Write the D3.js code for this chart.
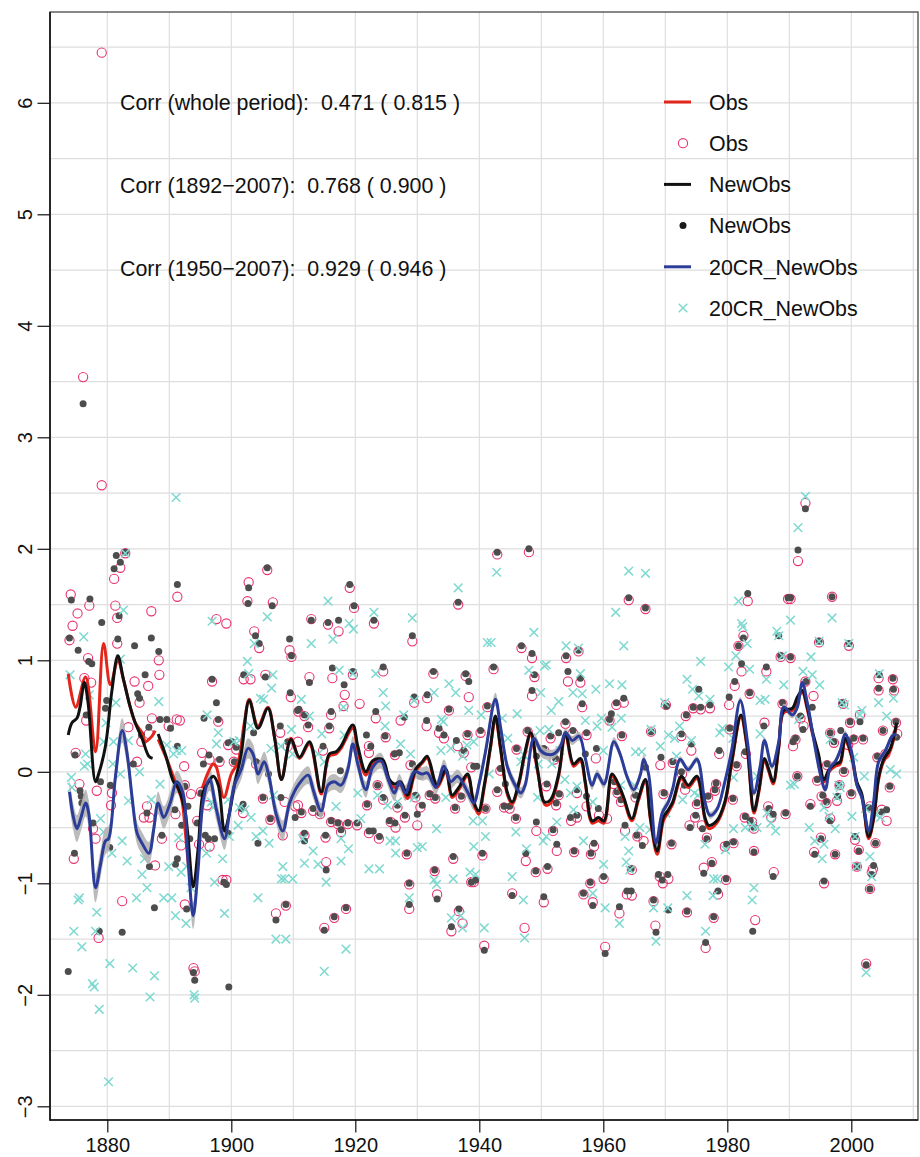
<!DOCTYPE html>
<html>
<head>
<meta charset="utf-8">
<script src="https://cdn.jsdelivr.net/npm/d3@7"></script>
<style>
  html, body { margin: 0; padding: 0; background: #fff; }
  svg { display: block; }
  text { font-family: "Liberation Sans", Arial, Helvetica, sans-serif; fill: #111; }
</style>
</head>
<body>
<svg id="chart" width="920" height="1157"></svg>
<script>
// ---- data: annual-index values (year, value) ----
const obsPoints = [
  [1879.1,6.45],[1876.1,3.54],[1879.1,2.57],[1882.1,1.83],[1881.1,1.73],[1882.9,1.96],[1874.1,1.59],[1877.1,1.49],
  [1875.2,1.42],[1881.3,1.49],[1881.6,1.38],[1887.1,1.44],[1874.4,1.31],[1873.9,1.18],[1881.6,1.15],[1888.3,1.0],
  [1888.4,0.87],[1876.9,1.02],[1886.6,0.77],[1885.2,0.62],[1884.4,0.81],[1877.4,0.80],[1876.3,0.84],[1876.6,0.46],
  [1887.2,0.48],[1886.7,0.34],[1883.4,0.40],[1889.9,0.41],[1891.2,0.47],[1885.5,0.27],[1874.9,0.17],[1884.8,0.09],
  [1875.5,-0.11],[1878.3,-0.17],[1880.75,-0.19],[1880.6,-0.30],[1886.4,-0.31],[1885.9,-0.41],[1886.8,-0.41],[1877.7,-0.51],
  [1878.1,-0.60],[1888.8,-0.60],[1874.6,-0.78],[1887.7,-0.84],[1882.4,-1.16],[1878.6,-1.49],
  [1905.8,1.81],[1902.8,1.70],[1902.6,1.53],[1906.7,1.52],[1891.3,1.57],[1897.6,1.37],[1899.2,1.33],[1903.7,1.26],
  [1904.5,1.11],[1909.4,1.09],[1909.7,1.03],[1902.0,0.83],[1903.1,0.83],[1905.5,0.87],[1896.9,0.81],[1909.6,0.67],
  [1910.8,0.54],[1891.7,0.46],[1897.9,0.45],[1907.9,0.35],[1895.3,0.17],[1896.5,0.11],[1898.1,0.09],[1900.4,0.09],
  [1892.4,0.05],[1909.1,0.23],[1905.1,-0.24],[1892.5,-0.12],[1893.5,-0.20],[1895.1,-0.18],[1896.1,-0.30],[1894.5,-0.44],
  [1901.9,-0.37],[1906.3,-0.43],[1908.6,-0.27],[1908.3,-0.57],[1910.3,-0.31],[1891.9,-0.66],[1896.5,-0.67],[1894.8,-0.65],
  [1898.6,-0.97],[1899.2,-0.97],[1892.5,-1.19],[1907.2,-1.27],[1908.8,-1.20],[1893.9,-1.76],[1894.1,-1.79],[1891.0,-0.38],
  [1904.0,0.07],[1899.5,0.24],[1900.8,0.20],
  [1919.1,1.65],[1919.8,1.47],[1912.9,1.37],[1923.0,1.33],[1915.6,1.32],[1917.3,1.26],[1929.2,1.17],[1912.6,0.85],
  [1916.3,0.84],[1919.6,0.87],[1924.5,0.90],[1918.3,0.69],[1918.1,0.59],[1920.7,0.61],[1916.1,0.51],[1923.3,0.48],
  [1911.8,0.50],[1912.4,0.40],[1927.3,0.46],[1929.5,0.62],[1915.8,0.39],[1924.9,0.31],[1922.2,0.23],[1922.2,0.17],
  [1926.4,0.15],[1928.9,0.06],[1914.8,0.19],[1910.75,0.27],[1923.6,-0.12],[1926.8,-0.32],[1928.0,-0.41],[1910.75,-0.30],
  [1911.3,-0.37],[1916.1,-0.45],[1917.2,-0.47],[1918.8,-0.47],[1920.3,-0.48],[1921.9,-0.30],[1925.7,-0.45],[1926.5,-0.50],
  [1922.2,-0.55],[1923.8,-0.60],[1917.7,-0.54],[1930.0,-0.48],[1911.8,-0.57],[1915.2,-0.59],[1915.3,-0.81],[1928.3,-0.74],
  [1928.7,-1.01],[1928.7,-1.23],[1918.5,-1.23],[1916.6,-1.31],[1915.0,-1.40],[1913.2,-0.35],[1914.3,-0.38],[1929.7,-0.23],
  [1924.5,-0.25],
  [1942.9,1.95],[1948.0,1.97],[1936.6,1.50],[1946.8,1.11],[1948.5,1.02],[1948.9,0.85],[1932.6,0.88],[1937.8,0.86],
  [1942.3,0.92],[1931.6,0.66],[1938.3,0.67],[1948.5,0.68],[1935.1,0.55],[1941.3,0.58],[1931.5,0.41],[1933.5,0.35],
  [1934.3,0.30],[1936.5,0.23],[1937.5,0.17],[1938.1,0.33],[1940.2,0.35],[1938.7,0.04],[1946.0,0.20],[1947.8,0.36],
  [1943.4,0.01],[1942.9,-0.18],[1944.0,-0.32],[1944.9,-0.33],[1930.5,-0.32],[1932.0,-0.21],[1932.9,-0.24],[1936.1,-0.33],
  [1937.0,-0.23],[1941.0,-0.33],[1945.9,-0.42],[1949.2,-0.53],[1947.5,-0.80],[1949.1,-0.90],[1935.8,-0.78],[1940.5,-0.75],
  [1932.8,-0.89],[1933.2,-1.10],[1938.7,-0.99],[1939.1,-0.99],[1945.3,-1.09],[1950.4,-1.17],[1936.7,-1.25],[1935.5,-1.43],
  [1937.3,-1.36],[1940.8,-1.56],[1947.3,-1.40],
  [1964.1,1.54],[1966.8,1.46],[1954.0,1.02],[1956.0,1.08],[1954.3,0.81],[1956.3,0.80],[1956.6,0.58],[1962.1,0.60],
  [1963.3,0.62],[1961.0,0.46],[1953.9,0.43],[1951.5,0.30],[1955.1,0.35],[1957.3,0.33],[1963.0,0.32],[1967.7,0.36],
  [1969.2,0.06],[1970.1,0.60],[1958.8,0.12],[1950.5,0.19],[1952.1,0.11],[1955.75,-0.19],[1952.8,-0.21],[1950.8,-0.13],
  [1952.4,-0.30],[1957.3,-0.31],[1959.3,-0.39],[1955.75,-0.41],[1954.8,-0.44],[1960.6,-0.42],[1962.3,-0.19],[1961.7,-0.11],
  [1962.85,-0.27],[1965.2,-0.23],[1969.7,-0.20],[1963.5,-0.53],[1965.5,-0.58],[1966.5,-0.62],[1951.9,-0.53],[1952.5,-0.71],
  [1955.3,-0.72],[1958.5,-0.67],[1958.0,-0.74],[1964.6,-0.88],[1960.05,-0.96],[1951.0,-0.87],[1957.9,-1.00],[1956.8,-1.10],
  [1958.3,-1.17],[1962.6,-1.27],[1963.8,-1.10],[1964.6,-1.11],[1968.1,-1.16],[1968.4,-1.38],[1969.1,-0.94],[1969.6,-1.00],
  [1960.3,-1.57],
  [1983.3,1.53],[1989.8,1.55],[1982.6,1.22],[1981.8,1.13],[1988.6,1.03],[1982.3,0.90],[1986.3,0.90],[1981.2,0.77],
  [1980.3,0.60],[1983.6,0.70],[1988.9,0.61],[1974.5,0.57],[1975.7,0.56],[1977.2,0.57],[1973.3,0.50],[1972.6,0.32],
  [1980.4,0.38],[1986.0,0.44],[1974.2,0.19],[1978.7,0.16],[1981.5,0.05],[1983.0,0.16],[1971.2,0.08],[1972.7,-0.02],
  [1973.2,-0.16],[1978.2,-0.11],[1980.9,-0.25],[1982.8,-0.41],[1975.1,-0.29],[1974.8,-0.41],[1973.9,-0.48],[1975.9,-0.48],
  [1976.7,-0.59],[1979.6,-0.67],[1981.0,-0.64],[1984.0,-0.45],[1984.3,-0.51],[1986.6,-0.31],[1987.1,-0.41],[1989.4,-0.38],
  [1984.3,-0.71],[1971.0,-0.65],[1970.5,-0.96],[1976.2,-0.86],[1977.5,-0.81],[1979.8,-0.97],[1987.5,-0.90],[1978.5,-1.10],
  [1973.5,-1.26],[1977.8,-1.31],[1976.5,-1.58],[1984.5,-1.33],[1976.9,-0.23],[1978.0,-0.17],
  [1992.6,2.41],[1991.4,1.89],[1990.2,1.55],[1996.9,1.57],[1994.8,1.16],[1999.6,1.13],[1990.2,1.02],[2004.4,0.84],
  [2004.4,0.73],[2006.7,0.83],[2006.9,0.73],[1992.6,0.81],[1993.9,0.68],[1998.7,0.61],[2001.4,0.51],[1991.8,0.48],
  [1992.3,0.41],[1999.8,0.44],[1996.6,0.35],[2005.1,0.37],[2007.2,0.44],[2007.4,0.34],[1991.0,0.29],[2000.4,0.29],
  [2001.9,0.29],[1997.2,0.26],[1999.5,0.24],[2004.2,0.13],[2005.5,0.16],[1990.6,0.23],[1991.3,-0.04],[1994.5,-0.08],
  [1998.8,0.0],[1996.1,0.06],[2006.2,-0.14],[1998.1,-0.12],[2000.0,-0.20],[1995.2,-0.22],[1996.0,-0.28],[1997.7,-0.26],
  [1993.4,-0.29],[1996.6,-0.42],[2003.0,-0.31],[2004.9,-0.34],[2005.7,-0.44],[1994.0,-0.72],[1995.1,-0.59],[1997.4,-0.74],
  [2000.6,-0.61],[2001.2,-0.70],[2000.9,-0.85],[2003.9,-0.64],[2003.5,-0.87],[2003.3,-0.90],[2003.0,-1.05],[1995.6,-1.00],
  [2002.4,-1.72]
];

const newObsPoints = [
  [1876.1,3.30],[1881.45,1.94],[1882.1,1.88],[1881.1,1.82],[1882.9,1.97],[1874.2,1.54],[1877.2,1.55],[1881.9,1.40],
  [1879.1,1.34],[1873.9,1.20],[1875.3,1.09],[1881.7,1.19],[1884.4,1.13],[1887.1,1.20],[1888.3,1.08],[1877.0,0.99],
  [1877.5,0.97],[1886.1,0.87],[1884.9,0.70],[1885.2,0.66],[1879.9,0.64],[1879.7,0.57],[1876.6,0.51],[1886.7,0.40],
  [1888.5,0.47],[1889.6,0.47],[1890.2,0.39],[1874.8,0.15],[1884.2,0.07],[1875.6,-0.17],[1875.8,-0.22],[1875.9,-0.28],
  [1878.9,-0.09],[1880.5,-0.12],[1886.4,-0.37],[1877.7,-0.46],[1888.8,-0.57],[1880.4,-0.68],[1874.7,-0.73],[1886.8,-0.85],
  [1891.0,-0.83],[1887.6,-1.22],[1878.7,-1.43],[1882.4,-1.44],[1873.7,-1.79],[1885.5,0.33],
  [1905.8,1.83],[1902.8,1.65],[1902.7,1.51],[1906.6,1.49],[1891.3,1.68],[1903.9,1.22],[1904.5,1.15],[1909.4,1.19],
  [1909.7,1.04],[1902.0,0.87],[1905.5,0.85],[1896.9,0.83],[1897.6,0.62],[1909.5,0.71],[1910.7,0.55],[1895.6,0.48],
  [1897.9,0.47],[1903.6,0.35],[1907.9,0.41],[1891.3,0.23],[1895.5,0.07],[1896.4,0.15],[1898.1,0.11],[1899.5,0.26],
  [1900.1,0.27],[1900.8,0.22],[1900.5,0.09],[1904.0,0.09],[1909.1,0.27],[1906.0,-0.02],[1905.1,-0.23],[1890.9,-0.34],
  [1895.1,-0.19],[1893.0,-0.31],[1894.5,-0.46],[1899.5,-0.55],[1901.9,-0.29],[1901.6,-0.33],[1904.3,-0.64],[1906.3,-0.42],
  [1910.3,-0.41],[1892.0,-0.48],[1893.3,-0.60],[1895.8,-0.57],[1896.3,-0.60],[1897.3,-0.60],[1891.3,-0.78],[1898.8,-0.99],
  [1899.2,-1.01],[1892.8,-1.23],[1907.2,-1.33],[1908.8,-1.19],[1893.9,-1.80],[1894.1,-1.87],[1899.6,-1.93],[1908.0,-0.23],
  [1892.5,-0.13],
  [1919.1,1.68],[1919.8,1.49],[1912.9,1.36],[1923.0,1.36],[1915.6,1.34],[1917.3,1.36],[1929.2,1.22],[1912.6,0.80],
  [1916.3,0.93],[1919.6,0.90],[1924.5,0.94],[1918.2,0.78],[1916.1,0.54],[1923.3,0.54],[1910.9,0.56],[1911.8,0.51],
  [1912.4,0.42],[1927.9,0.49],[1929.5,0.67],[1915.8,0.41],[1924.8,0.32],[1921.8,0.33],[1922.5,0.23],[1926.3,0.16],
  [1927.1,0.17],[1929.2,0.07],[1914.8,0.23],[1917.6,0.01],[1923.6,-0.12],[1924.5,-0.23],[1926.8,-0.30],[1928.0,-0.39],
  [1929.7,-0.21],[1911.3,-0.36],[1913.2,-0.33],[1914.3,-0.37],[1916.1,-0.44],[1917.2,-0.46],[1918.8,-0.46],[1920.3,-0.46],
  [1925.5,-0.44],[1926.4,-0.46],[1922.2,-0.53],[1922.9,-0.53],[1923.9,-0.58],[1917.7,-0.52],[1930.0,-0.38],[1911.8,-0.55],
  [1911.8,-0.62],[1915.2,-0.57],[1928.3,-0.73],[1915.3,-0.88],[1928.7,-1.0],[1928.7,-1.19],[1918.5,-1.22],[1916.6,-1.30],
  [1915.0,-1.42],[1921.9,-0.29],
  [1942.9,1.97],[1948.0,2.00],[1936.6,1.52],[1946.8,1.13],[1948.5,1.06],[1948.9,0.87],[1932.6,0.90],[1937.8,0.88],
  [1938.3,0.81],[1942.3,0.94],[1931.6,0.69],[1948.5,0.73],[1935.1,0.56],[1941.3,0.59],[1931.5,0.46],[1933.5,0.39],
  [1934.3,0.33],[1936.3,0.28],[1937.5,0.19],[1938.1,0.34],[1940.2,0.37],[1939.1,0.05],[1939.6,0.05],[1946.0,0.21],
  [1947.8,0.37],[1943.4,0.03],[1942.9,-0.16],[1944.2,-0.11],[1944.0,-0.31],[1944.9,-0.31],[1949.2,0.14],[1930.5,-0.04],
  [1930.8,-0.30],[1932.0,-0.20],[1932.9,-0.23],[1936.1,-0.32],[1937.1,-0.22],[1941.0,-0.33],[1945.9,-0.41],[1949.2,-0.45],
  [1947.5,-0.73],[1949.1,-0.89],[1935.8,-0.76],[1940.5,-0.73],[1932.8,-0.88],[1933.2,-1.14],[1938.7,-0.99],[1939.4,-0.97],
  [1945.3,-1.11],[1950.4,-1.12],[1936.7,-1.23],[1935.5,-1.39],[1940.8,-1.60],
  [1964.1,1.56],[1966.8,1.47],[1954.0,1.04],[1956.0,1.09],[1954.3,0.90],[1956.3,0.84],[1956.6,0.61],[1962.1,0.62],
  [1963.3,0.66],[1961.3,0.52],[1961.0,0.47],[1953.9,0.45],[1951.5,0.32],[1952.8,0.35],[1955.1,0.37],[1957.3,0.35],
  [1963.0,0.33],[1967.7,0.36],[1969.3,0.13],[1970.2,0.59],[1958.9,0.21],[1957.1,0.16],[1950.4,0.21],[1952.3,0.12],
  [1955.75,-0.16],[1952.9,-0.20],[1950.9,-0.11],[1952.4,-0.28],[1957.3,-0.22],[1959.2,-0.33],[1955.75,-0.39],[1954.7,-0.41],
  [1962.2,-0.18],[1961.8,-0.09],[1962.85,-0.25],[1965.2,-0.21],[1969.8,-0.19],[1963.5,-0.48],[1965.4,-0.57],[1966.3,-0.66],
  [1951.9,-0.52],[1952.5,-0.65],[1955.3,-0.71],[1958.5,-0.64],[1958.0,-0.73],[1964.5,-0.87],[1960.05,-0.94],[1951.0,-0.85],
  [1957.9,-0.99],[1956.8,-1.09],[1958.3,-1.20],[1962.6,-1.21],[1963.8,-1.07],[1964.5,-1.07],[1968.1,-1.15],[1968.5,-1.44],
  [1968.9,-0.92],[1969.5,-0.97],[1960.3,-1.63],[1966.8,0.04],
  [1983.3,1.60],[1989.8,1.56],[1982.6,1.20],[1981.8,1.13],[1988.3,1.22],[1988.6,1.04],[1982.3,0.97],[1986.3,0.94],
  [1975.4,0.74],[1981.2,0.81],[1980.3,0.67],[1983.6,0.71],[1988.9,0.62],[1974.5,0.58],[1975.7,0.58],[1977.2,0.60],
  [1973.4,0.51],[1972.6,0.34],[1980.4,0.39],[1985.9,0.41],[1974.2,0.25],[1978.7,0.19],[1981.5,0.06],[1982.9,0.18],
  [1971.2,0.09],[1972.6,0.0],[1973.1,-0.12],[1976.9,-0.22],[1978.2,-0.10],[1980.9,-0.24],[1982.9,-0.40],[1975.1,-0.28],
  [1974.9,-0.39],[1974.0,-0.50],[1976.0,-0.51],[1976.7,-0.60],[1979.9,-0.65],[1981.0,-0.63],[1983.7,-0.44],[1984.3,-0.50],
  [1986.7,-0.33],[1987.4,-0.38],[1989.4,-0.37],[1984.3,-0.72],[1971.0,-0.64],[1970.4,-0.92],[1976.2,-0.91],[1977.5,-0.82],
  [1979.8,-0.96],[1987.4,-0.94],[1978.5,-1.07],[1973.5,-1.25],[1977.8,-1.30],[1970.5,-1.24],[1976.5,-1.53],[1984.1,-1.43],
  [1978.0,-0.16],
  [1992.6,2.36],[1991.4,1.99],[1990.2,1.56],[1996.9,1.57],[1994.8,1.17],[1999.6,1.15],[1990.2,1.03],[2004.5,0.87],
  [2004.4,0.75],[2006.7,0.84],[2006.8,0.74],[1992.7,0.81],[1993.7,0.58],[1998.5,0.62],[2001.4,0.45],[1991.8,0.50],
  [1992.2,0.38],[1999.8,0.45],[1996.6,0.35],[1998.3,0.37],[2005.1,0.37],[2007.2,0.45],[2007.3,0.31],[1991.0,0.30],
  [2000.4,0.30],[2001.9,0.30],[1997.2,0.27],[1999.6,0.27],[2004.2,0.14],[2005.5,0.16],[1990.6,0.27],[1991.3,-0.04],
  [1994.5,-0.07],[1998.8,0.01],[1996.1,0.07],[2006.2,-0.13],[1998.0,-0.12],[2000.0,-0.19],[1995.4,-0.21],[1996.0,-0.27],
  [1997.8,-0.22],[1993.4,-0.31],[1996.6,-0.44],[2002.8,-0.32],[2004.9,-0.36],[2005.7,-0.34],[1994.1,-0.74],[1995.1,-0.60],
  [1997.4,-0.74],[2000.6,-0.58],[2001.2,-0.71],[2000.9,-0.85],[2003.9,-0.64],[2003.6,-0.84],[2003.3,-0.92],[2003.0,-1.05],
  [1995.6,-0.98],[2002.4,-1.73]
];

const crPoints = [
  [1891.1,2.46],[1882.9,1.96],[1882.6,1.45],[1876.2,1.21],[1882.1,1.01],[1874.0,0.87],[1877.1,0.69],[1881.4,0.62],
  [1888.3,0.63],[1879.8,0.44],[1889.6,0.24],[1890.7,0.16],[1883.4,0.28],[1881.0,0.27],[1876.5,0.16],[1876.8,0.07],
  [1876.3,0.05],[1879.4,0.27],[1882.1,-0.02],[1880.9,0.07],[1885.2,0.0],[1874.2,-0.05],[1874.3,-0.14],[1888.5,-0.11],
  [1887.1,-0.25],[1883.4,-0.26],[1878.9,-0.42],[1879.4,-0.54],[1882.4,-0.62],[1880.75,-0.73],[1883.2,-0.80],[1886.0,-0.78],
  [1885.6,-0.92],[1889.9,-0.85],[1886.4,-1.04],[1875.5,-1.13],[1875.3,-1.15],[1878.3,-1.26],[1884.7,-1.13],[1889.1,-1.13],
  [1890.4,-1.13],[1891.0,-1.29],[1874.6,-1.43],[1878.1,-1.43],[1875.9,-1.57],[1880.4,-1.72],[1884.1,-1.76],[1887.6,-1.83],
  [1877.6,-1.90],[1877.9,-1.93],[1886.9,-2.02],[1878.7,-2.13],[1880.2,-2.78],
  [1905.8,1.39],[1896.9,1.35],[1903.7,1.15],[1902.6,0.99],[1902.8,0.88],[1906.7,0.87],[1904.7,0.66],[1905.2,0.65],
  [1906.5,0.75],[1896.1,0.51],[1897.9,0.35],[1897.6,0.25],[1903.1,0.41],[1909.7,0.38],[1891.2,0.19],[1892.0,0.19],
  [1900.4,0.27],[1901.3,0.28],[1906.4,0.21],[1909.9,0.16],[1906.8,-0.21],[1896.8,-0.27],[1897.1,-0.32],[1899.5,-0.25],
  [1901.3,-0.32],[1901.1,-0.48],[1899.7,-0.58],[1902.2,-0.34],[1903.2,-0.41],[1904.0,-0.58],[1905.1,-0.53],[1906.1,-0.64],
  [1896.0,-0.73],[1891.9,-0.90],[1892.8,-0.85],[1898.6,-0.78],[1897.3,-0.99],[1908.3,-0.85],[1908.1,-0.96],[1908.6,-0.96],
  [1909.9,-0.96],[1904.3,-1.13],[1892.7,-1.36],[1898.9,-1.27],[1907.2,-1.50],[1908.8,-1.50],[1894.0,-2.00],[1894.1,-2.03],
  [1891.5,-0.59],[1893.5,-1.04],[1908.0,0.23],
  [1915.6,1.53],[1923.0,1.43],[1919.0,1.33],[1919.7,1.28],[1929.2,1.38],[1912.9,1.15],[1916.4,1.19],[1917.4,0.91],
  [1919.6,0.88],[1923.3,0.88],[1924.5,0.71],[1918.1,0.58],[1924.9,0.59],[1911.3,0.65],[1912.6,0.50],[1927.8,0.51],
  [1929.5,0.64],[1914.6,0.34],[1924.8,0.41],[1927.3,0.25],[1928.9,0.16],[1918.2,0.33],[1914.0,0.16],[1923.6,-0.21],
  [1920.4,-0.19],[1925.2,-0.30],[1926.8,-0.27],[1916.9,-0.31],[1920.9,-0.42],[1917.7,-0.60],[1918.9,-0.69],[1913.2,-0.71],
  [1914.0,-0.83],[1911.8,-0.82],[1917.7,-0.80],[1915.3,-0.99],[1925.6,-0.62],[1926.5,-0.62],[1926.5,-0.73],[1922.2,-0.87],
  [1923.9,-0.87],[1928.7,-1.13],[1918.5,-1.59],[1915.0,-1.79],[1911.5,-0.60],[1930.0,-0.68],[1929.5,-0.23],[1915.0,0.09],
  [1912.0,-0.07],
  [1942.8,1.79],[1936.6,1.65],[1941.3,1.16],[1941.9,1.16],[1948.8,1.25],[1948.0,0.91],[1950.5,0.95],[1935.1,0.79],
  [1936.2,0.71],[1932.7,0.71],[1949.9,0.71],[1938.3,0.55],[1940.3,0.51],[1943.7,0.48],[1946.1,0.52],[1933.9,0.47],
  [1934.2,0.45],[1935.4,0.21],[1933.8,0.19],[1937.3,0.14],[1938.0,0.24],[1939.1,0.27],[1949.8,0.37],[1946.7,0.09],
  [1941.6,-0.02],[1949.5,0.07],[1934.6,-0.23],[1939.0,-0.44],[1940.5,-0.44],[1941.0,-0.58],[1939.1,-0.67],[1933.1,-0.51],
  [1930.8,-0.67],[1945.9,-0.54],[1949.4,-0.23],[1947.6,-0.69],[1950.3,-0.62],[1932.7,-0.97],[1933.1,-1.01],[1935.8,-0.96],
  [1939.4,-0.92],[1938.5,-0.90],[1945.3,-0.94],[1947.1,-1.15],[1935.5,-1.31],[1937.0,-1.29],[1937.3,-1.40],[1940.8,-1.40],
  [1947.3,-1.49],[1944.6,0.30],[1947.2,0.15],
  [1964.1,1.80],[1966.8,1.78],[1962.0,1.43],[1963.3,1.13],[1954.0,1.13],[1956.0,1.11],[1950.8,0.96],[1956.3,0.88],
  [1955.1,0.71],[1956.6,0.70],[1958.8,0.74],[1961.0,0.79],[1963.0,0.78],[1952.8,0.63],[1951.6,0.55],[1962.9,0.48],
  [1959.7,0.48],[1957.1,0.46],[1951.2,0.38],[1959.0,0.41],[1961.4,0.40],[1967.7,0.38],[1969.2,0.23],[1969.9,0.62],
  [1965.2,0.18],[1966.2,0.18],[1960.0,0.19],[1953.8,-0.07],[1954.7,-0.19],[1955.75,-0.13],[1958.3,-0.27],[1955.2,-0.34],
  [1965.9,-0.50],[1963.5,-0.58],[1950.8,-0.58],[1952.5,-0.45],[1956.8,-0.62],[1964.1,-0.71],[1963.7,-0.81],[1960.05,-0.83],
  [1958.3,-1.09],[1960.3,-1.22],[1962.6,-1.36],[1968.1,-1.22],[1968.5,-1.52],[1964.3,-0.88],[1967.5,-0.52],[1953.0,0.19],
  [1951.7,0.07],[1962.8,-0.12],[1965.0,-0.12],
  [1981.8,1.53],[1982.3,1.33],[1982.5,1.30],[1983.2,1.15],[1988.3,1.22],[1988.0,1.26],[1981.4,1.04],[1975.7,0.99],
  [1980.2,0.94],[1983.6,0.92],[1986.3,0.83],[1973.5,0.83],[1974.4,0.74],[1975.4,0.68],[1977.2,0.65],[1989.1,0.78],
  [1985.3,0.64],[1986.1,0.65],[1972.3,0.41],[1971.5,0.30],[1979.2,0.39],[1978.8,0.35],[1985.3,0.34],[1974.2,0.28],
  [1981.0,-0.05],[1984.8,-0.04],[1971.8,0.14],[1972.8,-0.25],[1974.7,-0.19],[1975.3,-0.21],[1982.9,-0.50],[1981.0,-0.51],
  [1976.4,-0.65],[1987.0,-0.46],[1987.8,-0.53],[1977.8,-0.96],[1978.4,-0.96],[1984.3,-1.04],[1984.0,-1.15],[1977.7,-1.11],
  [1973.5,-1.11],[1970.4,-1.22],[1976.5,-1.43],[1988.9,1.04],[1970.5,0.33],[1980.9,0.30],[1984.0,-0.48],[1984.8,-0.50],
  [1979.7,-0.70],[1986.4,-0.37],[1970.1,-0.37],
  [1992.6,2.47],[1991.4,2.19],[1996.9,1.38],[1994.8,1.17],[1999.6,1.15],[1993.5,1.03],[1992.2,0.90],[1993.7,0.87],
  [1994.9,0.78],[2004.5,0.88],[2006.8,0.66],[2004.4,0.62],[1998.5,0.62],[1998.9,0.60],[2001.7,0.55],[2001.4,0.51],
  [2005.7,0.50],[1991.5,0.47],[2000.4,0.13],[2006.3,0.02],[2007.3,-0.02],[1990.2,-0.12],[1990.8,-0.11],[1997.7,-0.23],
  [2002.1,-0.04],[1998.0,-0.12],[1998.2,-0.14],[1995.6,-0.32],[1996.4,-0.40],[1997.4,-0.51],[1993.2,-0.50],[2000.1,-0.40],
  [1994.1,-0.62],[1995.6,-0.65],[1995.3,-0.78],[2000.6,-0.58],[2000.9,-0.85],[2003.0,-0.76],[2003.3,-0.94],[2002.4,-1.80],
  [1990.2,1.36],[2003.9,-0.38],[2004.7,-0.41],[1996.6,0.29],[2002.3,-0.33]
];

// ---- smoothed curves (year, value); null marks a gap ----
const obsSmooth = [
  [1873.7,0.88],[1874.9,0.58],[1876.5,0.85],[1878.1,0.18],[1879.4,1.15],[1880.5,0.78],[1881.7,1.0],[1882.6,0.83],
  [1883.7,0.58],[1884.5,0.44],[1885.6,0.35],[1886.1,0.27],[1887.2,0.32],[1887.7,0.37],[1887.9,null],
  [1888.2,0.29],[1889.6,0.11],[1890.9,-0.08],[1892.0,-0.25],[1892.6,-0.55],[1893.1,-0.86],[1894.0,null],
  [1895.3,-0.15],[1896.3,0.0],[1897.1,0.07],[1897.6,0.04],[1898.8,-0.23],[1900.0,-0.02],[1901.1,0.09],[1902.1,0.44],
  [1902.9,0.65],[1904.3,0.41],[1905.9,0.58],[1907.0,0.30],[1908.1,-0.07],[1909.6,0.30],[1911.0,0.12],[1912.6,0.25],
  [1914.5,-0.20],[1915.8,0.14],[1916.9,0.16],[1917.7,0.21],[1919.6,0.39],[1920.4,0.19],[1921.7,-0.03],[1922.8,0.08],
  [1924.4,0.09],[1925.5,-0.09],[1926.3,-0.14],[1927.3,-0.12],[1928.4,-0.24],[1929.7,0.0],[1930.8,0.08],[1931.6,0.12],
  [1933.2,-0.14],[1934.6,0.0],[1935.6,-0.23],[1936.7,-0.16],[1938.1,-0.04],[1939.1,-0.29],[1939.9,-0.38],[1940.8,-0.14],
  [1941.8,0.21],[1942.6,0.48],[1943.4,0.21],[1944.5,-0.20],[1945.3,-0.29],[1946.4,-0.11],[1947.3,0.14],[1948.3,0.33],
  [1949.4,0.0],[1950.7,-0.30],[1951.5,-0.28],[1952.8,-0.04],[1953.9,0.33],[1955.2,0.05],[1956.3,0.10],[1957.1,-0.11],
  [1958.2,-0.46],[1959.2,-0.44],[1960.1,-0.46],[1961.4,-0.04],[1962.5,-0.14],[1963.3,-0.25],[1964.6,-0.44],[1965.7,-0.25],
  [1966.8,-0.09],[1967.6,-0.43],[1968.7,-0.74],[1969.7,-0.44],[1970.5,-0.36],[1971.2,-0.29],[1972.6,-0.06],[1973.7,-0.14],
  [1975.1,-0.06],[1976.4,-0.43],[1977.0,-0.51],[1978.3,-0.46],[1979.6,-0.29],[1980.7,0.07],[1982.2,0.49],[1983.2,0.21],
  [1984.3,-0.37],[1985.1,-0.18],[1986.0,0.10],[1986.7,0.0],[1987.4,-0.11],[1988.3,0.21],[1989.1,0.53],[1990.5,0.55],
  [1991.3,0.65],[1992.1,0.71],[1992.9,0.56],[1993.7,0.35],[1994.7,0.14],[1995.6,-0.09],[1996.4,0.0],[1997.4,0.05],
  [1998.2,0.07],[1999.0,0.28],[2000.0,0.14],[2000.9,-0.11],[2001.7,-0.22],[2002.8,-0.60],[2003.6,-0.43],[2004.4,-0.07],
  [2005.2,0.09],[2006.3,0.19],[2007.3,0.42]
];

const newObsSmooth = [
  [1873.7,0.33],[1874.3,0.44],[1875.1,0.48],[1875.6,0.58],[1876.3,0.80],[1876.9,0.62],[1878.1,-0.09],[1878.6,-0.02],
  [1879.7,0.23],[1880.75,0.73],[1881.7,1.04],[1882.6,0.83],[1883.7,0.58],[1884.5,0.44],[1885.6,0.30],[1886.7,0.14],
  [1887.3,0.12],[1887.9,null],
  [1888.2,0.34],[1889.4,0.15],[1890.7,-0.09],[1891.2,-0.12],[1892.5,-0.34],[1893.85,-1.03],[1894.65,-0.69],[1895.45,-0.19],
  [1896.3,-0.09],[1897.1,-0.04],[1897.9,-0.12],[1898.9,-0.53],[1899.7,-0.37],[1900.5,-0.12],[1901.6,0.16],[1902.9,0.64],
  [1904.3,0.39],[1905.9,0.57],[1907.0,0.30],[1908.1,-0.07],[1909.6,0.29],[1911.0,0.13],[1912.6,0.27],[1914.5,-0.18],
  [1915.8,0.16],[1916.9,0.18],[1917.7,0.23],[1919.6,0.42],[1920.4,0.23],[1921.7,0.0],[1922.8,0.10],[1924.4,0.11],
  [1925.5,-0.07],[1926.3,-0.11],[1927.3,-0.09],[1928.4,-0.21],[1929.7,0.02],[1930.8,0.09],[1931.6,0.14],[1933.2,-0.12],
  [1934.6,0.02],[1935.6,-0.21],[1936.7,-0.14],[1938.1,-0.02],[1939.1,-0.27],[1939.9,-0.35],[1940.8,-0.12],[1941.8,0.23],
  [1942.6,0.50],[1943.4,0.23],[1944.5,-0.18],[1945.3,-0.27],[1946.4,-0.09],[1947.3,0.16],[1948.3,0.35],[1949.4,0.02],
  [1950.5,-0.27],[1951.5,-0.25],[1952.8,-0.02],[1953.9,0.35],[1955.2,0.07],[1956.3,0.12],[1957.1,-0.09],[1958.2,-0.44],
  [1959.2,-0.41],[1960.1,-0.44],[1961.4,-0.02],[1962.5,-0.12],[1963.3,-0.23],[1964.6,-0.42],[1965.7,-0.23],[1966.8,-0.07],
  [1967.6,-0.41],[1968.7,-0.71],[1969.7,-0.41],[1970.5,-0.34],[1971.2,-0.27],[1972.6,-0.04],[1973.7,-0.12],[1975.1,-0.04],
  [1976.4,-0.41],[1977.0,-0.48],[1978.3,-0.44],[1979.6,-0.27],[1980.7,0.09],[1982.2,0.51],[1983.2,0.23],[1984.3,-0.35],
  [1985.1,-0.16],[1986.0,0.12],[1986.7,0.02],[1987.4,-0.09],[1988.3,0.23],[1989.1,0.55],[1990.5,0.57],[1991.3,0.67],
  [1992.1,0.73],[1992.9,0.58],[1993.7,0.37],[1994.7,0.16],[1995.6,-0.07],[1996.4,0.02],[1997.4,0.07],[1998.2,0.09],
  [1999.0,0.30],[2000.0,0.16],[2000.9,-0.09],[2001.7,-0.20],[2002.8,-0.58],[2003.6,-0.41],[2004.4,-0.05],[2005.2,0.11],
  [2006.3,0.21],[2007.3,0.44]
];

// 20CR curve: [year, value, half-width of the uncertainty band]
const crSmooth = [
  [1873.9,-0.18,0.12],[1874.5,-0.40,0.12],[1875.1,-0.51,0.12],[1875.7,-0.42,0.12],[1876.5,-0.28,0.12],[1877.0,-0.37,0.12],
  [1878.1,-1.04,0.13],[1878.9,-0.83,0.12],[1879.7,-0.62,0.12],[1880.2,-0.60,0.11],[1881.3,-0.05,0.11],[1882.4,0.37,0.11],
  [1883.2,0.16,0.11],[1884.0,-0.23,0.10],[1884.8,-0.55,0.10],[1885.6,-0.64,0.10],[1886.7,-0.73,0.10],[1887.5,-0.51,0.10],
  [1888.2,-0.28,0.10],[1889.1,-0.41,0.10],[1890.2,-0.27,0.10],[1891.2,-0.09,0.10],[1892.2,-0.19,0.10],[1893.0,-0.78,0.11],
  [1893.85,-1.29,0.12],[1894.65,-0.87,0.11],[1895.45,-0.27,0.10],[1896.5,-0.07,0.10],[1897.6,-0.34,0.10],[1898.9,-0.60,0.10],
  [1899.7,-0.37,0.10],[1900.5,-0.12,0.09],[1901.6,0.02,0.09],[1902.7,0.21,0.09],[1903.5,0.16,0.09],[1904.3,-0.02,0.09],
  [1905.3,0.09,0.09],[1906.0,-0.02,0.09],[1907.2,-0.37,0.09],[1908.3,-0.53,0.09],[1909.4,-0.28,0.08],[1910.9,-0.11,0.08],
  [1912.4,-0.03,0.08],[1913.2,-0.16,0.08],[1914.5,-0.35,0.07],[1915.6,-0.12,0.07],[1916.6,-0.09,0.07],[1917.7,-0.12,0.07],
  [1918.8,0.02,0.07],[1919.6,0.25,0.07],[1920.4,0.07,0.07],[1921.7,-0.16,0.07],[1922.8,0.04,0.07],[1924.1,0.10,0.07],
  [1925.2,-0.05,0.07],[1926.3,-0.19,0.07],[1927.1,-0.09,0.07],[1928.1,-0.19,0.07],[1929.5,0.0,0.06],[1930.8,-0.02,0.06],
  [1931.6,-0.01,0.06],[1933.0,-0.14,0.06],[1934.3,0.05,0.06],[1935.4,-0.09,0.06],[1936.5,-0.04,0.06],[1938.1,-0.18,0.06],
  [1939.1,-0.28,0.06],[1940.0,-0.10,0.06],[1941.0,0.18,0.06],[1942.6,0.65,0.06],[1943.4,0.41,0.06],[1944.5,0.05,0.05],
  [1945.5,-0.09,0.05],[1946.7,-0.19,0.05],[1947.4,-0.12,0.05],[1948.8,0.30,0.05],[1949.9,0.19,0.05],[1950.7,0.16,0.05],
  [1952.0,0.16,0.04],[1953.1,0.23,0.04],[1953.9,0.35,0.04],[1955.0,0.28,0.04],[1956.1,0.32,0.04],[1957.1,0.12,0.04],
  [1958.2,-0.12,0.04],[1959.0,-0.02,0.04],[1960.1,-0.11,0.04],[1961.7,0.27,0.04],[1962.7,0.16,0.04],[1963.8,-0.04,0.04],
  [1964.9,-0.16,0.04],[1966.0,-0.02,0.04],[1966.5,0.11,0.04],[1967.3,-0.02,0.04],[1968.5,-0.64,0.04],[1969.5,-0.37,0.04],
  [1970.5,-0.27,0.03],[1971.2,-0.15,0.03],[1972.4,0.11,0.03],[1973.7,0.02,0.03],[1975.1,0.11,0.03],[1976.4,-0.27,0.03],
  [1977.2,-0.39,0.03],[1978.3,-0.34,0.03],[1979.6,-0.09,0.03],[1980.7,0.19,0.03],[1982.1,0.64,0.03],[1983.3,0.25,0.03],
  [1984.3,-0.19,0.03],[1985.3,0.05,0.03],[1986.0,0.28,0.03],[1987.2,0.05,0.03],[1988.3,0.27,0.03],[1989.1,0.58,0.03],
  [1990.5,0.51,0.03],[1991.3,0.58,0.03],[1992.1,0.80,0.03],[1992.9,0.62,0.03],[1994.0,0.27,0.03],[1995.0,-0.02,0.03],
  [1995.8,-0.16,0.03],[1996.6,0.04,0.03],[1997.4,0.09,0.03],[1998.2,0.19,0.03],[1999.0,0.34,0.03],[2000.0,0.19,0.03],
  [2000.9,-0.12,0.03],[2001.7,-0.23,0.03],[2002.8,-0.53,0.03],[2003.6,-0.27,0.03],[2004.4,0.09,0.03],[2005.5,0.19,0.03],
  [2006.6,0.32,0.03],[2007.3,0.34,0.03]
];

// ---- axis ticks and labels ----
const yearTicks = [1880, 1900, 1920, 1940, 1960, 1980, 2000];
const valueTicks = [-3, -2, -1, 0, 1, 2, 3, 4, 5, 6];
const yearGrid = [1880, 1890, 1900, 1910, 1920, 1930, 1940, 1950, 1960, 1970, 1980, 1990, 2000, 2010];
const valueGrid = [-3, -2.5, -2, -1.5, -1, -0.5, 0, 0.5, 1, 1.5, 2, 2.5, 3, 3.5, 4, 4.5, 5, 5.5, 6, 6.5];

const corrLabels = [
  "Corr (whole period):  0.471 ( 0.815 )",
  "Corr (1892\u22122007):  0.768 ( 0.900 )",
  "Corr (1950\u22122007):  0.929 ( 0.946 )"
];
const legendItems = [
  { label: "Obs", kind: "line", color: "#e3261c" },
  { label: "Obs", kind: "circle", color: "#e8336e" },
  { label: "NewObs", kind: "line", color: "#111111" },
  { label: "NewObs", kind: "dot", color: "#1a1a1a" },
  { label: "20CR_NewObs", kind: "line", color: "#2c3c99" },
  { label: "20CR_NewObs", kind: "cross", color: "#7fd9d1" }
];

// ---- layout ----
const plotL = 50, plotR = 918, plotB = 1120, plotT = 12;

const svg = d3.select("#chart");
const x = d3.scaleLinear().domain([1880, 2000]).range([107.3, 851.3]);
const y = d3.scaleLinear().domain([0, 6]).range([771.8, 102.8]);

// grid
const grid = svg.append("g").attr("stroke", "#dedede").attr("stroke-width", 1.2);
grid.selectAll("line.v").data(yearGrid).join("line").attr("class", "v")
  .attr("x1", d => x(d)).attr("x2", d => x(d)).attr("y1", plotT).attr("y2", plotB);
grid.selectAll("line.h").data(valueGrid).join("line").attr("class", "h")
  .attr("x1", plotL).attr("x2", plotR).attr("y1", d => y(d)).attr("y2", d => y(d));

// points: Obs circles, NewObs dots, 20CR crosses
svg.append("g").selectAll("circle").data(obsPoints).join("circle")
  .attr("cx", d => x(d[0])).attr("cy", d => y(d[1])).attr("r", 4.6)
  .attr("fill", "none").attr("stroke", "#e8336e").attr("stroke-width", 1.1);

svg.append("g").selectAll("circle").data(newObsPoints).join("circle")
  .attr("cx", d => x(d[0])).attr("cy", d => y(d[1])).attr("r", 3.5)
  .attr("fill", "#4d4d4d");

const crossPath = "M-4.3,-4.3L4.3,4.3M-4.3,4.3L4.3,-4.3";
svg.append("g").selectAll("path").data(crPoints).join("path")
  .attr("transform", d => `translate(${x(d[0])},${y(d[1])})`)
  .attr("d", crossPath).attr("fill", "none")
  .attr("stroke", "#7fd9d1").attr("stroke-width", 1.5);

// uncertainty band of the 20CR curve
const band = d3.area()
  .x(d => x(d[0])).y0(d => y(d[1] - d[2])).y1(d => y(d[1] + d[2]))
  .curve(d3.curveCatmullRom.alpha(0.5));
svg.append("path").datum(crSmooth).attr("d", band)
  .attr("fill", "#b4b4b4").attr("opacity", 0.9);

const line = d3.line()
  .defined(d => d[1] !== null)
  .x(d => x(d[0])).y(d => y(d[1]))
  .curve(d3.curveCatmullRom.alpha(0.5));

svg.append("path").datum(obsSmooth).attr("d", line)
  .attr("fill", "none").attr("stroke", "#e3261c").attr("stroke-width", 3).attr("stroke-linejoin", "round");
svg.append("path").datum(newObsSmooth).attr("d", line)
  .attr("fill", "none").attr("stroke", "#111111").attr("stroke-width", 3).attr("stroke-linejoin", "round");
svg.append("path").datum(crSmooth).attr("d", line)
  .attr("fill", "none").attr("stroke", "#2c3c99").attr("stroke-width", 3).attr("stroke-linejoin", "round");

// frame
svg.append("rect").attr("x", plotL).attr("y", plotT).attr("width", plotR - plotL).attr("height", plotB - plotT)
  .attr("fill", "none").attr("stroke", "#555").attr("stroke-width", 1.4);
svg.append("line").attr("x1", plotL).attr("x2", plotL).attr("y1", plotT).attr("y2", plotB + 0.7)
  .attr("stroke", "#111").attr("stroke-width", 1.6);
svg.append("line").attr("x1", plotL).attr("x2", plotR).attr("y1", plotB).attr("y2", plotB)
  .attr("stroke", "#111").attr("stroke-width", 1.6);

// axes
const xAxis = d3.axisBottom(x).tickValues(yearTicks).tickFormat(d3.format("d"))
  .tickSize(12.5).tickSizeOuter(0).tickPadding(5);
const gx = svg.append("g").attr("transform", `translate(0,${plotB})`).call(xAxis);
gx.select(".domain").remove();
gx.selectAll(".tick line").attr("stroke", "#111").attr("stroke-width", 1.2);
gx.selectAll(".tick text").attr("font-size", 20).attr("fill", "#111")
  .attr("font-family", "'Liberation Sans', Arial, sans-serif");

const yAxis = d3.axisLeft(y).tickValues(valueTicks).tickFormat(d3.format("d"))
  .tickSize(12.5).tickSizeOuter(0);
const gy = svg.append("g").attr("transform", `translate(${plotL},0)`).call(yAxis);
gy.select(".domain").remove();
gy.selectAll(".tick line").attr("stroke", "#111").attr("stroke-width", 1.2);
gy.selectAll(".tick text")
  .attr("x", null).attr("dy", null)
  .attr("transform", "translate(-18.5,0) rotate(-90)")
  .attr("text-anchor", "middle").attr("font-size", 20).attr("fill", "#111")
  .attr("font-family", "'Liberation Sans', Arial, sans-serif");

// correlation annotations
svg.append("g").selectAll("text").data(corrLabels).join("text")
  .attr("x", 120).attr("y", (d, i) => 110 + i * 83)
  .attr("font-size", 21.4).style("white-space", "pre")
  .text(d => d);

// legend
const lg = svg.append("g");
const rowY = i => 102 + i * 41.2;
legendItems.forEach((it, i) => {
  const cy = rowY(i);
  if (it.kind === "line") {
    lg.append("line").attr("x1", 664).attr("x2", 691).attr("y1", cy).attr("y2", cy)
      .attr("stroke", it.color).attr("stroke-width", 3);
  } else if (it.kind === "circle") {
    lg.append("circle").attr("cx", 683).attr("cy", cy).attr("r", 4.6)
      .attr("fill", "none").attr("stroke", it.color).attr("stroke-width", 1.1);
  } else if (it.kind === "dot") {
    lg.append("circle").attr("cx", 683).attr("cy", cy).attr("r", 3.5).attr("fill", it.color);
  } else {
    lg.append("path").attr("transform", `translate(683,${cy})`).attr("d", crossPath)
      .attr("fill", "none").attr("stroke", it.color).attr("stroke-width", 1.5);
  }
  lg.append("text").attr("x", 709).attr("y", cy + 7.7).attr("font-size", 21.4).text(it.label);
});
</script>
</body>
</html>
